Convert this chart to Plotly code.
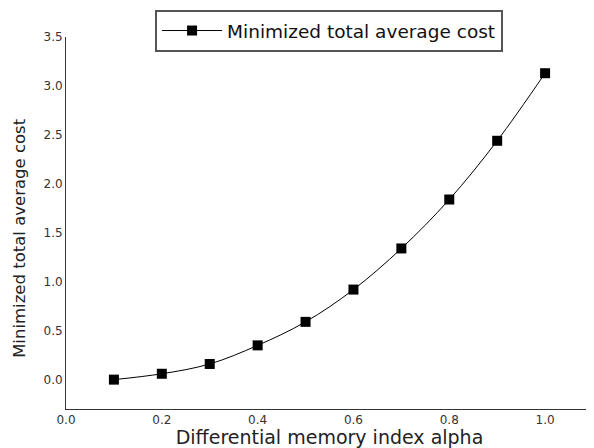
import plotly.graph_objects as go

alpha = [0.1, 0.2, 0.3, 0.4, 0.5, 0.6, 0.7, 0.8, 0.9, 1.0]
cost = [0.0, 0.06, 0.16, 0.35, 0.59, 0.92, 1.34, 1.84, 2.44, 3.13]

fig = go.Figure()
fig.add_trace(go.Scatter(
    x=alpha, y=cost, mode="lines+markers",
    name="Minimized total average cost",
    line=dict(color="black", width=1, shape="spline"),
    marker=dict(symbol="square", size=10, color="black"),
))

fig.update_layout(
    width=586, height=440,
    margin=dict(l=58, r=1, t=29, b=39, autoexpand=False),
    paper_bgcolor="white", plot_bgcolor="white",
    font=dict(family="DejaVu Sans, sans-serif", color="#222"),
    showlegend=True,
    legend=dict(
        x=0.169, y=1.0726, xanchor="left", yanchor="top",
        bordercolor="#555", borderwidth=2, bgcolor="white",
        font=dict(size=18.5, color="#111"),
        itemwidth=60,
    ),
    xaxis=dict(
        range=[0, 1.1], tickvals=[0, 0.2, 0.4, 0.6, 0.8, 1.0],
        ticktext=["0.0", "0.2", "0.4", "0.6", "0.8", "1.0"],
        showgrid=False, zeroline=False, showline=True, linecolor="#333", linewidth=1,
        ticks="", tickfont=dict(size=12, color="#333"),
        title=dict(text="Differential memory index alpha", font=dict(size=19, color="#222"), standoff=0),
    ),
    yaxis=dict(
        range=[-0.3, 3.5], tickvals=[0, 0.5, 1.0, 1.5, 2.0, 2.5, 3.0, 3.5],
        ticktext=["0.0", "0.5", "1.0", "1.5", "2.0", "2.5", "3.0", "3.5"],
        showgrid=False, zeroline=False, showline=True, linecolor="#333", linewidth=1,
        ticks="", tickfont=dict(size=12, color="#333"),
    ),
    annotations=[dict(
        text="Minimized total average cost", textangle=-90,
        xref="paper", yref="paper", x=-0.0873, y=0.46,
        xanchor="center", yanchor="middle", showarrow=False,
        font=dict(size=16.5, color="#222"),
    )],
)

fig.write_html("out.html")
